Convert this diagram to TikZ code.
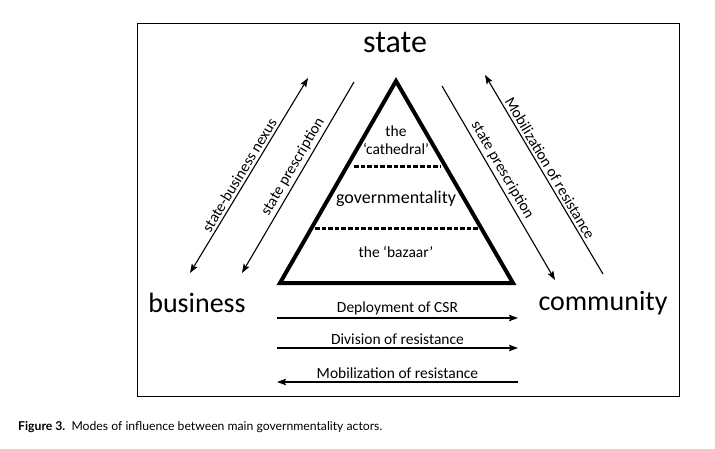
\documentclass[tikz,border=0pt]{standalone}
\usepackage{fontspec}
\setmainfont{Carlito}
\newfontfamily\capfont{Lato}
\usetikzlibrary{arrows.meta,positioning,calc}

\begin{document}
\begin{tikzpicture}[x=1pt,y=-1pt,>={Stealth[length=9pt,width=6.5pt,inset=1.5pt]},
  actor/.style={anchor=base,font=\fontsize{28}{30}\selectfont},
  lbl/.style={font=\fontsize{15.5}{17}\selectfont,inner sep=2.5pt},
  flow/.style={line width=1.1pt},
  layer/.style={line width=3pt,dash pattern=on 4.6pt off 2pt}]
\useasboundingbox (0,0) rectangle (715,449);
\draw[line width=0.9pt] (137,23) rectangle (679,396);
% actors
\node[actor,font=\fontsize{32}{34}\selectfont] (state) at (395,53) {state};
\node[actor] (business) at (197,312) {business};
\node[actor] (community) at (603,310) {community};
% the pyramid
\coordinate (apex) at (396,81);
\coordinate (baseL) at (280,283);
\coordinate (baseR) at (513,283);
\draw[line width=4pt,line join=miter] (apex) -- (baseR) -- (baseL) -- cycle;
\draw[layer] (354,167) -- (440,167);
\draw[layer] (315,229) -- (478,229);
\node[lbl,anchor=base] (the) at (396,137) {the};
\node[lbl,anchor=base] (cathedral) at (396,155) {`cathedral'};
\node[anchor=base,font=\fontsize{18}{20}\selectfont] (gov) at (396,204) {governmentality};
\node[lbl,anchor=base] (bazaar) at (396,258) {the `bazaar'};
% left side
\coordinate (nexA) at (190,273);
\coordinate (nexB) at (308,78);
\coordinate (lpA) at (354,82);
\coordinate (lpB) at (242,273);
\draw[flow,<->] (nexA) -- node[lbl,sloped,above,pos=0.48] {state-business nexus} (nexB);
\draw[flow,<-] (lpB) -- node[lbl,sloped,above,pos=0.53] {state prescription} (lpA);
% right side
\coordinate (rpA) at (442,86);
\coordinate (rpB) at (555,280);
\coordinate (mobA) at (485,75);
\coordinate (mobB) at (603,274);
\draw[flow,->] (rpA) -- node[lbl,sloped,above,pos=0.46] {state prescription} (rpB);
\draw[flow,<-] (mobA) -- node[lbl,sloped,above,pos=0.49] {Mobilization of resistance} (mobB);
% bottom
\coordinate (csrA) at (277,318);
\coordinate (csrB) at (518,318);
\coordinate (divA) at (277,348);
\coordinate (divB) at (518,348);
\coordinate (mbA) at (277,382);
\coordinate (mbB) at (518,382);
\draw[flow,->] (csrA) -- node[lbl,above] {Deployment of CSR} (csrB);
\draw[flow,->] (divA) -- node[lbl,above] {Division of resistance} (divB);
\draw[flow,<-] (mbA) -- node[lbl,above] {Mobilization of resistance} (mbB);
% caption
\node[anchor=base west,inner sep=0pt,font=\capfont\fontsize{12.2}{14}\selectfont] (caption) at (18,430)
  {\textbf{Figure 3.}\ \ Modes of influence between main governmentality actors.};
\end{tikzpicture}
\end{document}
